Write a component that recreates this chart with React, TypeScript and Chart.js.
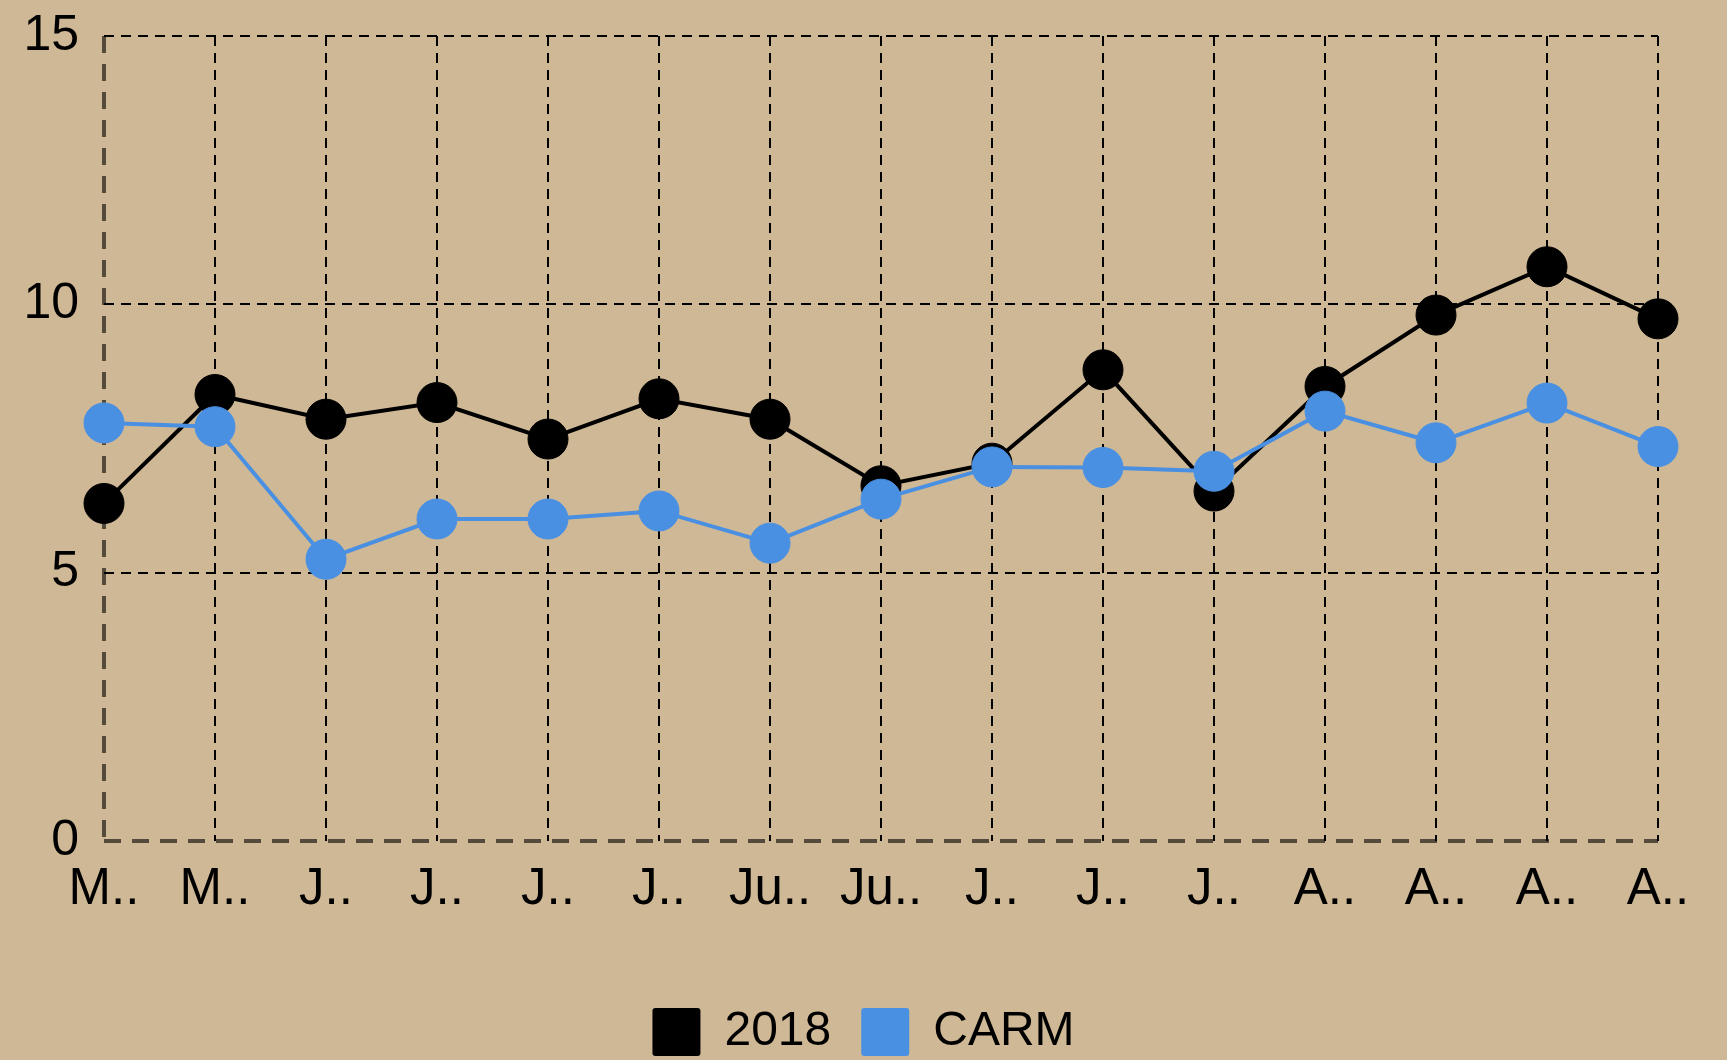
import React, { useEffect, useRef } from 'react';
import { Chart, registerables } from 'chart.js';

Chart.register(...registerables);

const categories = ['M..', 'M..', 'J..', 'J..', 'J..', 'J..', 'Ju..', 'Ju..', 'J..', 'J..', 'J..', 'A..', 'A..', 'A..', 'A..'];
const series2018 = [6.29, 8.32, 7.86, 8.17, 7.49, 8.24, 7.86, 6.62, 7.04, 8.78, 6.52, 8.47, 9.8, 10.7, 9.73];
const seriesCARM = [7.79, 7.72, 5.25, 6.0, 6.0, 6.15, 5.55, 6.37, 6.97, 6.96, 6.89, 8.01, 7.42, 8.16, 7.35];
const yMin = 0;
const yMax = 15;
const yStep = 5;

const BG = '#CFB895';
const AXIS = 'rgba(0,0,0,0.6)';
const BLUE = '#4A90E2';
const FONT = "'Liberation Sans', Arial, sans-serif";

export default function App() {
  const ref = useRef<HTMLCanvasElement>(null);

  useEffect(() => {
    if (!ref.current) return;
    Chart.defaults.font.family = FONT;
    Chart.defaults.color = '#000';
    const chart = new Chart(ref.current, {
      type: 'line',
      data: {
        labels: categories,
        datasets: [
          {
            label: '2018',
            data: series2018,
            borderColor: '#000',
            backgroundColor: '#000',
            borderWidth: 4,
            pointRadius: 20,
            pointBorderWidth: 1,
            pointBackgroundColor: '#000',
            pointBorderColor: '#000',
            tension: 0,
            order: 2,
            yAxisID: 'y',
          },
          {
            label: 'CARM',
            data: seriesCARM,
            borderColor: BLUE,
            backgroundColor: BLUE,
            borderWidth: 4,
            pointRadius: 20,
            pointBorderWidth: 1,
            pointBackgroundColor: BLUE,
            pointBorderColor: BLUE,
            tension: 0,
            order: 1,
            yAxisID: 'y',
          },
        ],
      },
      options: {
        animation: false,
        responsive: false,
        devicePixelRatio: 1,
        layout: { padding: { top: 36, right: 0, bottom: -6, left: 0 } },
        plugins: {
          tooltip: { enabled: false },
          legend: {
            position: 'bottom',
            labels: {
              boxWidth: 48,
              boxHeight: 48,
              padding: 30,
              color: '#000',
              font: { size: 48, family: FONT },
              useBorderRadius: true,
              borderRadius: 3,
              sort: (a: any, b: any) => a.datasetIndex - b.datasetIndex,
              generateLabels: (c: any) =>
                (Chart.defaults.plugins.legend.labels.generateLabels as any)(c).map((l: any) => ({ ...l, lineWidth: 0 })),
            },
          },
        },
        scales: {
          x: {
            type: 'category',
            offset: false,
            grid: {
              drawTicks: false,
              color: (ctx: any) => (ctx.index === 0 ? AXIS : '#000'),
              lineWidth: (ctx: any) => (ctx.index === 0 ? 4 : 2),
            },
            border: {
              display: false,
              dash: (ctx: any) => (ctx.index === 0 ? [17, 11] : [10, 7]),
            },
            ticks: {
              color: '#000',
              padding: 18,
              autoSkip: false,
              maxRotation: 0,
              font: { size: 51, family: FONT },
            },
            afterFit: (s: any) => {
              s.height = 137;
              s.paddingLeft = 0;
              s.paddingRight = 0;
            },
          },
          y: {
            min: yMin,
            max: yMax,
            grid: {
              drawTicks: false,
              color: (ctx: any) => (ctx.tick && ctx.tick.value === 0 ? AXIS : '#000'),
              lineWidth: (ctx: any) => (ctx.tick && ctx.tick.value === 0 ? 4 : 2),
            },
            border: {
              display: false,
              dash: (ctx: any) => (ctx.tick && ctx.tick.value === 0 ? [17, 11] : [10, 7]),
            },
            ticks: {
              stepSize: yStep,
              color: '#000',
              padding: 25,
              font: { size: 50, family: FONT },
            },
            afterFit: (s: any) => {
              s.width = 104;
              s.paddingTop = 0;
              s.paddingBottom = 0;
            },
          },
          yRight: {
            position: 'right',
            min: yMin,
            max: yMax,
            grid: { display: false, drawTicks: false },
            border: { display: false },
            ticks: { display: false },
            afterFit: (s: any) => {
              s.width = 69;
              s.paddingTop = 0;
              s.paddingBottom = 0;
            },
          },
        },
      },
    });
    return () => chart.destroy();
  }, []);

  return (
    <div style={{ position: 'fixed', left: 0, top: 0, width: 1727, height: 1060, background: BG }}>
      <canvas ref={ref} width={1727} height={1060} style={{ display: 'block' }} />
    </div>
  );
}
